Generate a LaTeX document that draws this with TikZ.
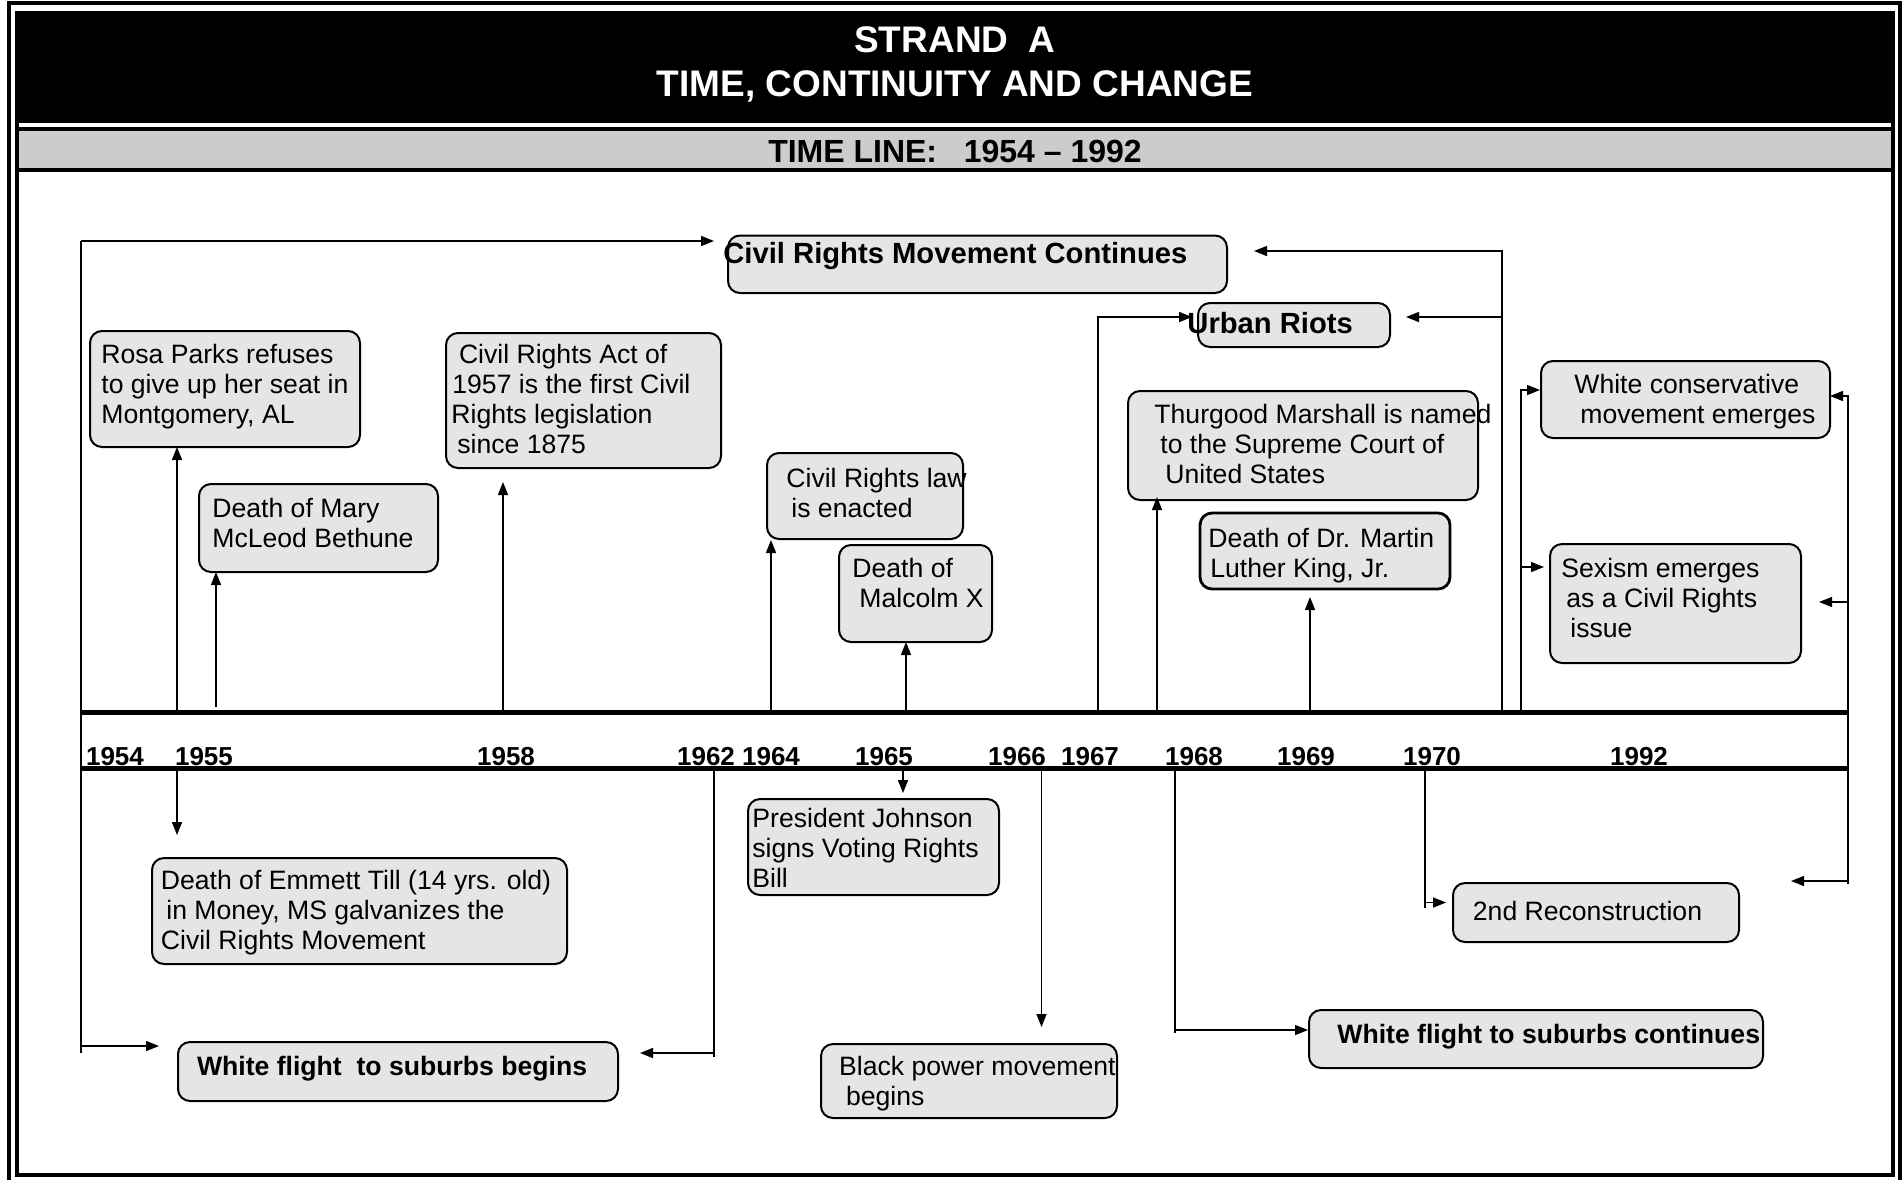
\documentclass[tikz,border=0pt]{standalone}
\usepackage{fontspec}
\setmainfont{Liberation Sans}
\usetikzlibrary{arrows.meta}
\definecolor{boxfill}{HTML}{E5E5E5}
\definecolor{barfill}{HTML}{CCCCCC}
\newcommand\tlbox[6][]{\node[evbox,#1,minimum width={(#4-#2)*0.5pt},minimum height={(#6-#3)*0.5pt}] (#5) at ({(#2+#4)/2},{(#3+#6)/2}) {};}
\begin{document}
\begin{tikzpicture}[x=0.5pt,y=-0.5pt,
  evbox/.style={draw,rounded corners=6pt,fill=boxfill,line width=1pt,inner sep=0pt,outer sep=0pt},
  txt/.style={font=\fontsize{13.3}{15}\selectfont,align=left,inner sep=0pt,anchor=base west},
  btxt/.style={txt,font=\fontsize{13.3}{15}\selectfont\bfseries},
  bigtxt/.style={txt,font=\fontsize{14.6}{16}\selectfont\bfseries},
  yr/.style={font=\fontsize{13}{15}\selectfont\bfseries,inner sep=0pt,anchor=base},
  ln/.style={line width=0.75pt},
  arr/.style={line width=0.75pt,-{Triangle[length=6.5pt,width=5pt]}},
  thick line/.style={line width=2.5pt}]
\useasboundingbox (0,0) rectangle (1904,1179);
\fill[white] (0,0) rectangle (1904,1179);
% frames
\draw[line width=2pt] (9,3) rectangle (1900,1190);
\draw[line width=2pt] (17,13) rectangle (1893,1175);
\fill[black] (15,11) rectangle (1895,123);
\draw[line width=2pt,fill=barfill] (17,129) rectangle (1893,170);
\node[font=\fontsize{18.5}{20}\selectfont\bfseries,text=white,inner sep=0pt,anchor=base] (t1) at (955,52) {STRAND\ \ A};
\node[font=\fontsize{18.5}{20}\selectfont\bfseries,text=white,inner sep=0pt,anchor=base] (t2) at (955,96) {TIME, CONTINUITY AND CHANGE};
\node[font=\fontsize{16}{18}\selectfont\bfseries,inner sep=0pt,anchor=base] (t3) at (955,162) {TIME LINE:\ \ \ 1954 -- 1992};
% boxes
\tlbox{728}{235.5}{1227}{crm}{293}
\tlbox{1198}{303}{1390}{urban}{347}
\tlbox{90}{331}{360}{rosa}{447}
\tlbox{199}{484}{438}{beth}{572}
\tlbox{446}{333}{721}{cra}{468}
\tlbox{767}{453}{963}{crlaw}{539}
\tlbox{839}{545}{992}{malc}{642}
\tlbox{1128}{391}{1478}{thur}{500}
\tlbox[line width=1.4pt]{1200}{513}{1450}{mlk}{589}
\tlbox{1541}{361}{1830}{wcons}{438}
\tlbox{1550}{544}{1801}{sex}{663}
\tlbox{748}{799}{999}{john}{895}
\tlbox{152}{858}{567}{emm}{964}
\tlbox{178}{1042}{618}{wfb}{1101}
\tlbox{821}{1044}{1117}{bpow}{1118}
\tlbox{1309}{1010}{1763}{wfc}{1068}
\tlbox{1453}{883}{1739}{recon}{942}
% texts (anchor at baseline of last line)
\node[bigtxt] (crmT) at (723,263) {Civil Rights Movement Continues};
\node[bigtxt] (urbanT) at (1187,333) {Urban Riots};
\node[txt] (rosaT) at (101,423) {Rosa Parks refuses\\to give up her seat in\\Montgomery, AL};
\node[txt] (bethT) at (212,547) {Death of Mary\\McLeod Bethune};
\node[txt] (craT) at (451,453) {\hspace*{3.8pt}Civil Rights Act of\\\hspace*{0.5pt}1957 is the first Civil\\Rights legislation\\\hspace*{3pt}since 1875};
\node[txt] (crlawT) at (786,517) {Civil Rights law\\\hspace*{2.5pt}is enacted};
\node[txt] (malcT) at (852,607) {Death of\\\hspace*{3.5pt}Malcolm X};
\node[txt] (thurT) at (1154,483) {Thurgood Marshall is named\\\hspace*{3pt}to the Supreme Court of\\\hspace*{5.5pt}United States};
\node[txt] (mlkT) at (1208,577) {Death of Dr. Martin\\\hspace*{1pt}Luther King, Jr.};
\node[txt] (wconsT) at (1574,423) {White conservative\\\hspace*{3pt}movement emerges};
\node[txt] (sexT) at (1561,637) {Sexism emerges\\\hspace*{2.5pt}as a Civil Rights\\\hspace*{4.5pt}issue};
\node[txt] (johnT) at (752,887) {President Johnson\\signs Voting Rights\\Bill};
\node[txt] (emmT) at (160.5,949) {Death of Emmett Till (14 yrs. old)\\\hspace*{2.75pt}in Money, MS galvanizes the\\Civil Rights Movement};
\node[btxt] (wfbT) at (196.6,1075) {White flight\ \ to suburbs begins};
\node[txt] (bpowT) at (838.7,1105) {Black power movement\\\hspace*{3.5pt}begins};
\node[btxt] (wfcT) at (1337,1043) {White flight to suburbs continues};
\node[txt] (reconT) at (1472.5,920) {2nd Reconstruction};
% time line
\draw[thick line] (81,712.5) -- (1848,712.5);
\draw[thick line] (81,768) -- (1848,768);
\draw[ln] (1848,712) -- (1848,768);
\node[yr] (y54) at (115,765) {1954};
\node[yr] (y55) at (204,765) {1955};
\node[yr] (y58) at (506,765) {1958};
\node[yr] (y62) at (706,765) {1962};
\node[yr] (y64) at (771,765) {1964};
\node[yr] (y65) at (884,765) {1965};
\node[yr] (y66) at (1017,765) {1966};
\node[yr] (y67) at (1090,765) {1967};
\node[yr] (y68) at (1194,765) {1968};
\node[yr] (y69) at (1306,765) {1969};
\node[yr] (y70) at (1432,765) {1970};
\node[yr] (y92) at (1639,765) {1992};
% connectors above
\draw[ln] (81,1053) -- (81,241);
\draw[arr] (81,241) -- (714,241);
\draw[arr] (81,1046) -- (159,1046);
\draw[arr] (177,712) -- (177,447);
\draw[arr] (216,707) -- (216,572);
\draw[arr] (503,712) -- (503,482);
\draw[arr] (771,712) -- (771,540);
\draw[arr] (906,712) -- (906,642);
\draw[arr] (1157,712) -- (1157,497);
\draw[arr] (1310,712) -- (1310,597);
\draw[arr] (1098,712) -- (1098,317) -- (1192,317);
\draw[arr] (1502,712) -- (1502,251) -- (1254,251);
\draw[arr] (1502,317) -- (1406,317);
\draw[arr] (1521,712) -- (1521,390) -- (1540,390);
\draw[arr] (1521,567) -- (1544,567);
\draw[arr] (1848,884) -- (1848,396) -- (1830,396);
\draw[arr] (1848,602) -- (1819,602);
\draw[arr] (1848,881) -- (1791,881);
% connectors below
\draw[arr] (177,768) -- (177,835);
\draw[ln] (714,768) -- (714,1057);
\draw[arr] (714,1053) -- (640,1053);
\draw[arr] (903,768) -- (903,793);
\draw[arr] (1041.5,768) -- (1041.5,1027);
\draw[ln] (1175,768) -- (1175,1033);
\draw[arr] (1175,1030) -- (1308,1030);
\draw[ln] (1425,768) -- (1425,908);
\draw[arr] (1425,902.5) -- (1446,902.5);
\end{tikzpicture}
\end{document}
